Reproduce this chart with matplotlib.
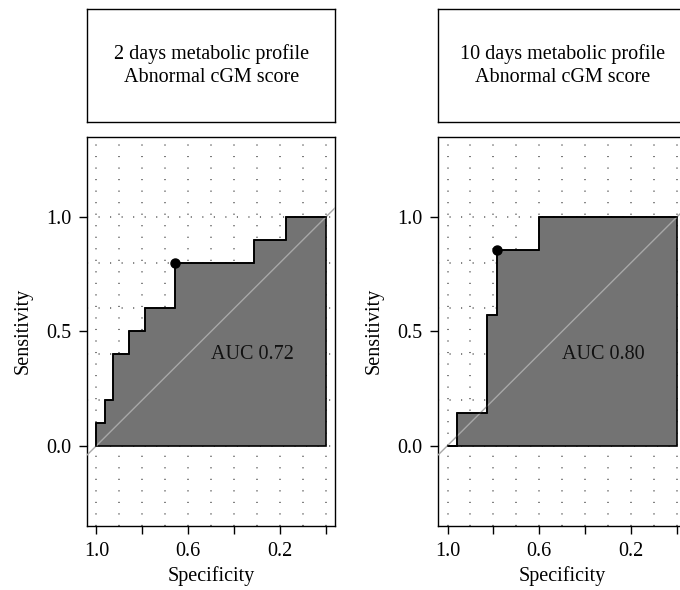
import numpy as np
import matplotlib.pyplot as plt

plt.rcParams['font.family'] = ['Liberation Serif', 'DejaVu Serif']
plt.rcParams['font.size'] = 14.5
plt.rcParams['lines.scale_dashes'] = False

# curvas ROC (especificidad, sensibilidad)
titulos = ['2 days metabolic profile\nAbnormal cGM score',
           '10 days metabolic profile\nAbnormal cGM score']

spec_2d = [1.0, 1.0, 0.964, 0.964, 0.929, 0.929, 0.858, 0.858, 0.790, 0.790,
           0.658, 0.658, 0.312, 0.312, 0.174, 0.174, 0.0]
sens_2d = [0.0, 0.1, 0.1, 0.2, 0.2, 0.4, 0.4, 0.5, 0.5, 0.6,
           0.6, 0.8, 0.8, 0.9, 0.9, 1.0, 1.0]

spec_10d = [1.0, 0.958, 0.958, 0.827, 0.827, 0.784, 0.784, 0.603, 0.603, 0.0]
sens_10d = [0.0, 0.0, 0.143, 0.143, 0.571, 0.571, 0.857, 0.857, 1.0, 1.0]

# punto de corte óptimo
mejor_2d = (0.658, 0.8)
mejor_10d = (0.784, 0.857)

auc_2d = 0.72
auc_10d = 0.80

x_ticks = [1.0, 0.8, 0.6, 0.4, 0.2, 0.0]
x_labels = ['1.0', '', '0.6', '', '0.2', '']
y_ticks = [0.0, 0.5, 1.0]
y_labels = ['0.0', '0.5', '1.0']


def graficar_roc(ax, spec, sens, mejor, auc):
    # rejilla punteada como en pROC
    ax.vlines(np.arange(0, 1.01, 0.1), -0.35, 1.35, colors='#555555',
              linewidth=1.1, linestyles=[(0, (0.8, 7.5))], zorder=0)
    ax.hlines(np.arange(0, 1.01, 0.2), 1.04, -0.04, colors='#555555',
              linewidth=1.1, linestyles=[(0, (0.8, 7.5))], zorder=0)

    ax.fill(spec + [0.0], sens + [0.0], facecolor='#737373',
            edgecolor='black', linewidth=1.2, zorder=2)
    ax.axline((1, 0), (0, 1), color='#a8a8a8', linewidth=1.0, zorder=3)
    ax.plot(spec, sens, color='black', linewidth=1.2, zorder=4)
    ax.plot(*mejor, marker='o', color='black', markersize=6.5, zorder=5)
    ax.text(0.5, 0.4, 'AUC %.2f' % auc, ha='left', va='center',
            color='#111111', zorder=6)

    ax.set_xlim(1.04, -0.04)
    ax.set_ylim(-0.35, 1.35)
    ax.set_xticks(x_ticks)
    ax.set_xticklabels(x_labels)
    ax.set_yticks(y_ticks)
    ax.set_yticklabels(y_labels)
    ax.tick_params(direction='out', length=5.5, width=1.0, pad=6)
    ax.set_xlabel('Specificity', labelpad=4)
    ax.set_ylabel('Sensitivity', labelpad=10)
    for s in ax.spines.values():
        s.set_linewidth(1.0)


fig = plt.figure(figsize=(6.8, 5.9), dpi=100)

lefts = [0.1284, 0.6446]
datos = [(spec_2d, sens_2d, mejor_2d, auc_2d),
         (spec_10d, sens_10d, mejor_10d, auc_10d)]

for i in range(2):
    ax = fig.add_axes([lefts[i], 0.109, 0.3647, 0.6593])
    graficar_roc(ax, *datos[i])

    caja = fig.add_axes([lefts[i], 0.7937, 0.3647, 0.1905])
    caja.set_xticks([])
    caja.set_yticks([])
    for s in caja.spines.values():
        s.set_linewidth(1.0)
    caja.text(0.5, 0.5, titulos[i], ha='center', va='center',
              linespacing=1.3, transform=caja.transAxes)

fig.savefig('out.png', dpi=100)
